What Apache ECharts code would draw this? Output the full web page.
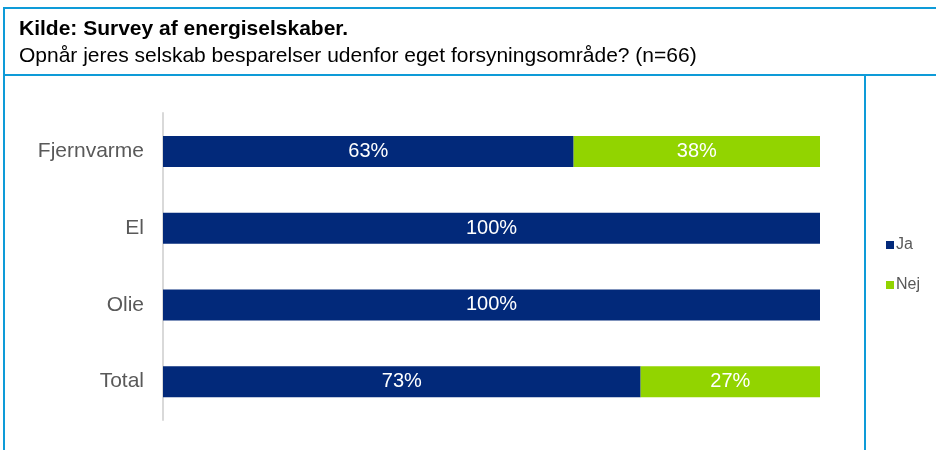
<!DOCTYPE html>
<html>
<head>
    <meta charset="utf-8">
    <title>Besparelser udenfor forsyningsområde</title>
    <script src="https://cdn.jsdelivr.net/npm/echarts@6/dist/echarts.min.js"></script>
    <style>
        html, body { margin: 0; padding: 0; background: #fff; }
        #chart { width: 936px; height: 450px; }
    </style>
</head>
<body>
<div id="chart"></div>
<script>
    // categories (top to bottom) and shares in percent
    var categories = ['Fjernvarme', 'El', 'Olie', 'Total'];
    var jaValues = [62.5, 100, 100, 72.7];
    var nejValues = [37.5, 0, 0, 27.3];

    var frameColor = '#0e9bd8';

    function pct(p) {
        return p.value > 0 ? Math.round(p.value) + '%' : '';
    }

    var chart = echarts.init(document.getElementById('chart'));
    chart.setOption({
        animation: false,
        title: [
            {
                text: 'Kilde: Survey af energiselskaber.',
                left: 14,
                top: 14,
                textStyle: { fontFamily: 'Liberation Sans', fontSize: 21, fontWeight: 'bold', color: '#000' }
            },
            {
                text: 'Opnår jeres selskab besparelser udenfor eget forsyningsområde? (n=66)',
                left: 14,
                top: 41,
                textStyle: { fontFamily: 'Liberation Sans', fontSize: 21, fontWeight: 'normal', color: '#000' }
            }
        ],
        graphic: [
            { type: 'line', shape: { x1: 3, y1: 8, x2: 936, y2: 8 }, style: { stroke: frameColor, lineWidth: 2 } },
            { type: 'line', shape: { x1: 4, y1: 7, x2: 4, y2: 450 }, style: { stroke: frameColor, lineWidth: 2 } },
            { type: 'line', shape: { x1: 3, y1: 75, x2: 936, y2: 75 }, style: { stroke: frameColor, lineWidth: 2 } },
            { type: 'line', shape: { x1: 865, y1: 75, x2: 865, y2: 450 }, style: { stroke: frameColor, lineWidth: 2 } }
        ],
        legend: {
            orient: 'vertical',
            left: 881,
            top: 232,
            icon: 'rect',
            itemWidth: 8,
            itemHeight: 8,
            itemGap: 24,
            textStyle: { fontFamily: 'Liberation Sans', fontSize: 16, color: '#595959', padding: [0, 0, 0, -3] },
            data: ['Ja', 'Nej']
        },
        grid: { left: 163, right: 116, top: 113, bottom: 30 },
        xAxis: {
            type: 'value',
            min: 0,
            max: 100,
            show: false
        },
        yAxis: {
            type: 'category',
            data: categories,
            inverse: true,
            axisLine: { lineStyle: { color: '#d9d9d9', width: 2 } },
            axisTick: { show: false },
            axisLabel: { fontFamily: 'Liberation Sans', fontSize: 21, color: '#595959', margin: 19 }
        },
        series: [
            {
                name: 'Ja',
                type: 'bar',
                stack: 'total',
                barWidth: 31,
                itemStyle: { color: '#02297a' },
                label: { show: true, position: 'inside', formatter: pct, color: '#fff', fontFamily: 'Liberation Sans', fontSize: 20 },
                data: jaValues
            },
            {
                name: 'Nej',
                type: 'bar',
                stack: 'total',
                barWidth: 31,
                itemStyle: { color: '#92d400' },
                label: { show: true, position: 'inside', formatter: pct, color: '#fff', fontFamily: 'Liberation Sans', fontSize: 20 },
                data: nejValues
            }
        ]
    });
</script>
</body>
</html>
